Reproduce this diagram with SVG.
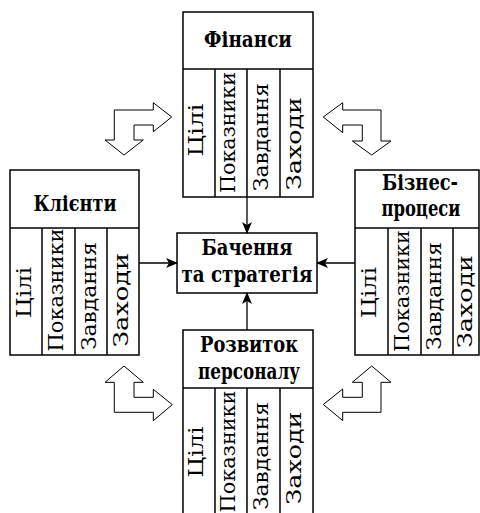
<svg xmlns="http://www.w3.org/2000/svg" width="480" height="513" viewBox="0 0 480 513">
<style>
.box{fill:#fff;stroke:#000;stroke-width:1.5}
.ln{stroke:#000;stroke-width:1.5;fill:none}
text{font-family:"DejaVu Serif Condensed","DejaVu Serif",serif;text-anchor:middle;fill:#000}
.hd{font-weight:bold;font-size:23px}
.col{font-size:21px}
.blk{fill:#fff;stroke:#000;stroke-width:1}
.con{stroke:#000;stroke-width:1.3;fill:none;marker-end:url(#ah)}
</style>
<defs>
<marker id="ah" markerWidth="12" markerHeight="10" refX="11" refY="5" orient="auto" markerUnits="userSpaceOnUse">
<path d="M0,0 L12,5 L0,10 L3,5 z" fill="#000"/>
</marker>
</defs>
<rect width="480" height="513" fill="#fff"/>

<g id="finance">
<rect class="box" x="183" y="12" width="130" height="185"/>
<line class="ln" x1="183" y1="69" x2="313" y2="69"/>
<line class="ln" x1="215" y1="69" x2="215" y2="197"/>
<line class="ln" x1="247" y1="69" x2="247" y2="197"/>
<line class="ln" x1="280" y1="69" x2="280" y2="197"/>
<text class="hd" x="248" y="47" textLength="88" lengthAdjust="spacingAndGlyphs">Фінанси</text>
<text class="col" transform="translate(203,130) rotate(-90)" textLength="53" lengthAdjust="spacingAndGlyphs">Цілі</text>
<text class="col" transform="translate(235,132.5) rotate(-90)" textLength="121" lengthAdjust="spacingAndGlyphs">Показники</text>
<text class="col" transform="translate(267.5,137) rotate(-90)" textLength="108" lengthAdjust="spacingAndGlyphs">Завдання</text>
<text class="col" transform="translate(300.5,143.5) rotate(-90)" textLength="93" lengthAdjust="spacingAndGlyphs">Заходи</text>
</g>

<g id="clients">
<rect class="box" x="10" y="170" width="129" height="185"/>
<line class="ln" x1="10" y1="228" x2="139" y2="228"/>
<line class="ln" x1="42" y1="228" x2="42" y2="355"/>
<line class="ln" x1="75" y1="228" x2="75" y2="355"/>
<line class="ln" x1="107" y1="228" x2="107" y2="355"/>
<text class="hd" x="75" y="211" textLength="83" lengthAdjust="spacingAndGlyphs">Клієнти</text>
<text class="col" transform="translate(31,292.5) rotate(-90)" textLength="51" lengthAdjust="spacingAndGlyphs">Цілі</text>
<text class="col" transform="translate(63,290) rotate(-90)" textLength="123" lengthAdjust="spacingAndGlyphs">Показники</text>
<text class="col" transform="translate(95.5,296) rotate(-90)" textLength="108" lengthAdjust="spacingAndGlyphs">Завдання</text>
<text class="col" transform="translate(127.5,300) rotate(-90)" textLength="94" lengthAdjust="spacingAndGlyphs">Заходи</text>
</g>

<g id="business">
<rect class="box" x="355" y="170" width="124" height="185"/>
<line class="ln" x1="355" y1="228" x2="479" y2="228"/>
<line class="ln" x1="388" y1="228" x2="388" y2="355"/>
<line class="ln" x1="421" y1="228" x2="421" y2="355"/>
<line class="ln" x1="453" y1="228" x2="453" y2="355"/>
<text class="hd" x="420" y="190" textLength="76" lengthAdjust="spacingAndGlyphs">Бізнес-</text>
<text class="hd" x="421" y="216" textLength="79" lengthAdjust="spacingAndGlyphs">процеси</text>
<text class="col" transform="translate(376,292.5) rotate(-90)" textLength="51" lengthAdjust="spacingAndGlyphs">Цілі</text>
<text class="col" transform="translate(409,291) rotate(-90)" textLength="122" lengthAdjust="spacingAndGlyphs">Показники</text>
<text class="col" transform="translate(441,296) rotate(-90)" textLength="108" lengthAdjust="spacingAndGlyphs">Завдання</text>
<text class="col" transform="translate(472,301.5) rotate(-90)" textLength="93" lengthAdjust="spacingAndGlyphs">Заходи</text>
</g>

<g id="personnel">
<rect class="box" x="183" y="330" width="130" height="200"/>
<line class="ln" x1="183" y1="388" x2="313" y2="388"/>
<line class="ln" x1="215" y1="388" x2="215" y2="520"/>
<line class="ln" x1="247" y1="388" x2="247" y2="520"/>
<line class="ln" x1="280" y1="388" x2="280" y2="520"/>
<text class="hd" x="249" y="352" textLength="98" lengthAdjust="spacingAndGlyphs">Розвиток</text>
<text class="hd" x="249" y="379" textLength="102" lengthAdjust="spacingAndGlyphs">персоналу</text>
<text class="col" transform="translate(203,452) rotate(-90)" textLength="51" lengthAdjust="spacingAndGlyphs">Цілі</text>
<text class="col" transform="translate(235,451.5) rotate(-90)" textLength="122" lengthAdjust="spacingAndGlyphs">Показники</text>
<text class="col" transform="translate(267.5,456) rotate(-90)" textLength="108" lengthAdjust="spacingAndGlyphs">Завдання</text>
<text class="col" transform="translate(300.5,458) rotate(-90)" textLength="93" lengthAdjust="spacingAndGlyphs">Заходи</text>
</g>

<g id="vision">
<rect class="box" x="177" y="233" width="140" height="60"/>
<text class="hd" x="247" y="255" textLength="91" lengthAdjust="spacingAndGlyphs">Бачення</text>
<text class="hd" x="247" y="282" textLength="131" lengthAdjust="spacingAndGlyphs">та стратегія</text>
</g>

<g id="connectors">
<line class="con" x1="247" y1="197" x2="247" y2="233"/>
<line class="con" x1="139" y1="263" x2="177" y2="263"/>
<line class="con" x1="355" y1="263" x2="317" y2="263"/>
<line class="con" x1="247" y1="330" x2="247" y2="293"/>
</g>

<g id="block-arrows">
<polygon class="blk" points="114.3,110 153.3,110 153.3,102.7 171.7,117 153.3,131.7 153.3,125 134,125 134,140 143.3,140 124,155 105,140 114.3,140"/>
<polygon class="blk" points="381,110 342.7,110 342.7,102.7 323.3,117 342.7,132.7 342.7,125 362.3,125 362.3,141 352.3,141 371.7,155 391,141 381,141"/>
<polygon class="blk" points="124,366 143.3,382.3 134,382.3 134,397.3 153.3,397.3 153.3,389.3 172.3,404.7 153.3,420.7 153.3,412.3 114.3,412.3 114.3,382.3 105,382.3"/>
<polygon class="blk" points="371.7,366 391,382.3 381,382.3 381,412.3 342.7,412.3 342.7,420.5 323.3,404.5 342.7,389 342.7,397.3 362.3,397.3 362.3,382.3 352.3,382.3"/>
</g>
</svg>
